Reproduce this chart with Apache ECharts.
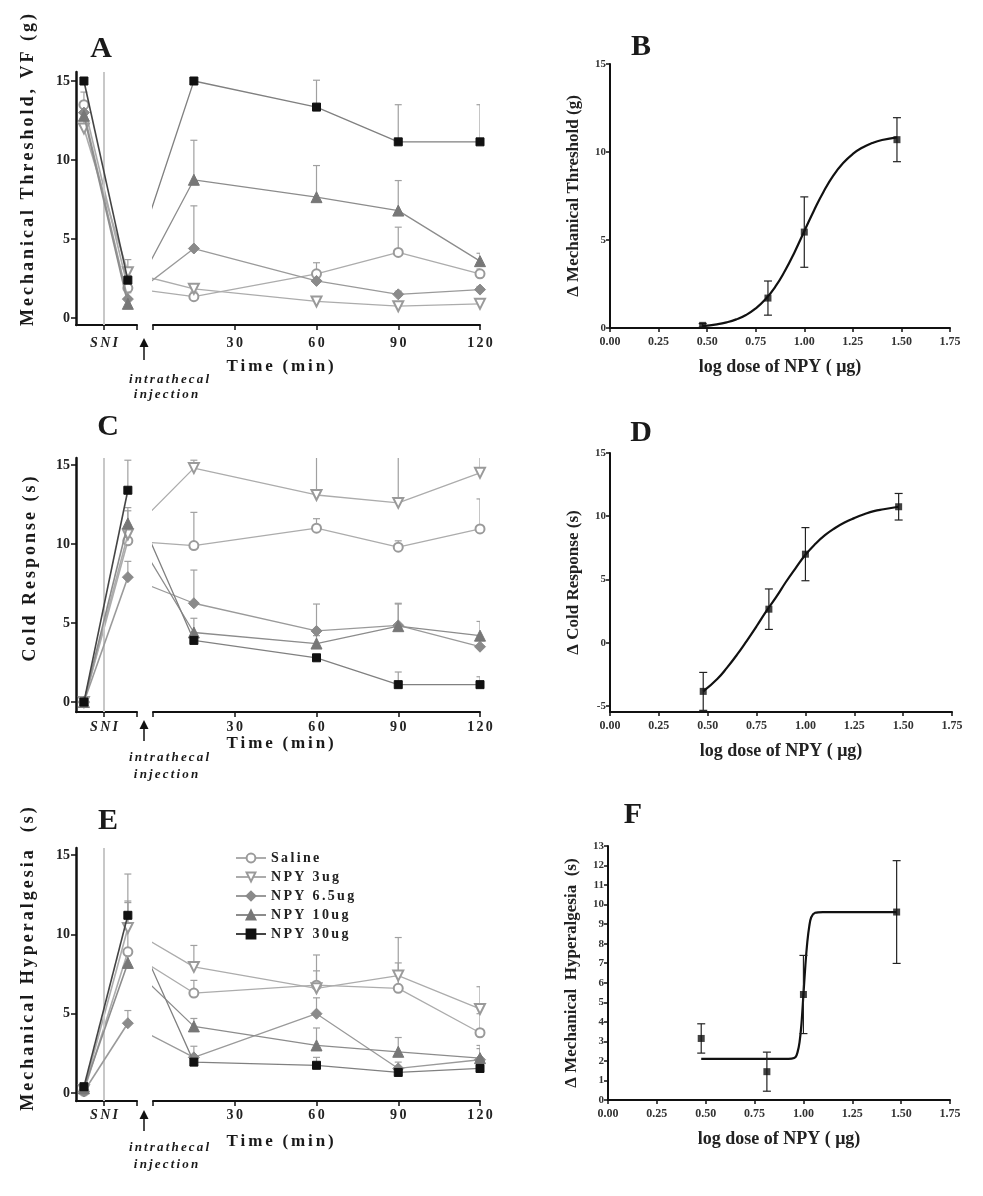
<!DOCTYPE html>
<html><head><meta charset="utf-8">
<script src="https://cdn.jsdelivr.net/npm/echarts@6/dist/echarts.min.js"></script>
<style>html,body{margin:0;padding:0;background:#fff}#c{width:983px;height:1196px}</style>
</head><body><div id="c"></div>
<script>
// ---------------- DATA ----------------
const groups = ['Saline', 'NPY 3ug', 'NPY 6.5ug', 'NPY 10ug', 'NPY 30ug'];
const times = [15, 60, 90, 120];
const timeTicks = [0, 30, 60, 90, 120];
const leftYTicks = [0, 5, 10, 15];
// each row: [baseline, post-SNI, 15, 60, 90, 120 min]
const mechMean = [
  [13.5, 1.9, 1.35, 2.8, 4.15, 2.8],
  [12.0, 2.9, 1.85, 1.05, 0.75, 0.9],
  [13.0, 1.2, 4.4, 2.35, 1.5, 1.8],
  [12.8, 0.9, 8.75, 7.65, 6.8, 3.6],
  [15.0, 2.4, 15.0, 13.35, 11.15, 11.15]
];
const mechErr = [
  [0.8, 0.6, 0.3, 0.7, 1.6, 0.3],
  [0.6, 0.8, 0.3, 0.2, 0.2, 0.2],
  [0.5, 0.4, 2.7, 0.5, 0.2, 0.2],
  [0.6, 0.4, 2.5, 2.0, 1.9, 0.5],
  [0.0, 0.3, 0.0, 1.7, 2.35, 2.35]
];
const coldMean = [
  [0, 10.2, 9.9, 11.0, 9.8, 10.95],
  [0, 10.6, 14.8, 13.1, 12.6, 14.5],
  [0, 7.9, 6.25, 4.5, 4.85, 3.5],
  [0, 11.3, 4.4, 3.7, 4.8, 4.2],
  [0, 13.4, 3.9, 2.8, 1.1, 1.1]
];
const coldErr = [
  [0.1, 1.0, 2.1, 0.6, 0.4, 1.9],
  [0.1, 1.5, 0.5, 2.5, 3.0, 1.0],
  [0.1, 1.0, 2.1, 1.7, 1.4, 0.6],
  [0.1, 1.0, 0.9, 0.5, 1.4, 0.9],
  [0.1, 1.9, 0.3, 0.2, 0.8, 0.5]
];
const hyperMean = [
  [0.1, 8.9, 6.3, 6.8, 6.6, 3.8],
  [0.2, 10.4, 7.95, 6.6, 7.4, 5.3],
  [0.1, 4.4, 2.25, 5.0, 1.55, 2.1],
  [0.3, 8.2, 4.2, 3.0, 2.6, 2.2],
  [0.4, 11.2, 1.95, 1.75, 1.3, 1.55]
];
const hyperErr = [
  [0.1, 3.2, 0.8, 1.9, 1.6, 1.2],
  [0.1, 3.4, 1.35, 1.1, 2.4, 1.4],
  [0.1, 0.8, 0.7, 1.0, 0.4, 0.9],
  [0.1, 0.6, 0.5, 1.1, 0.9, 0.6],
  [0.1, 0.8, 0.3, 0.5, 0.3, 0.3]
];
const logDose = [0.477, 0.813, 1.0, 1.477];
const doseTicks = [0, 0.25, 0.5, 0.75, 1.0, 1.25, 1.5, 1.75];
const dMech = [0.15, 1.7, 5.45, 10.7];
const dMechErr = [0.1, 0.97, 2.0, 1.25];
const dCold = [-3.85, 2.65, 7.0, 10.75];
const dColdErr = [1.5, 1.6, 2.1, 1.05];
const dHyper = [3.15, 1.45, 5.4, 9.62];
const dHyperErr = [0.75, 1.0, 2.0, 2.63];
const fitX = [0.477, 0.55, 0.6, 0.65, 0.7, 0.75, 0.8, 0.85, 0.9, 0.95, 1.0, 1.05, 1.1, 1.15, 1.2, 1.25, 1.3, 1.35, 1.4, 1.477];
const fitMech = [0.11, 0.21, 0.32, 0.49, 0.74, 1.11, 1.63, 2.33, 3.24, 4.31, 5.5, 6.68, 7.76, 8.67, 9.37, 9.89, 10.26, 10.51, 10.68, 10.83];
const fitCold = [-3.85, -2.85, -1.95, -0.95, 0.15, 1.3, 2.5, 3.6, 4.8, 5.9, 6.95, 7.8, 8.5, 9.05, 9.5, 9.85, 10.15, 10.4, 10.55, 10.75];
const fitHyperX = [0.477, 0.9, 0.94, 0.96, 0.97, 0.98, 0.99, 1.0, 1.01, 1.02, 1.03, 1.04, 1.06, 1.1, 1.477];
const fitHyper = [2.1, 2.1, 2.12, 2.2, 2.45, 2.95, 3.9, 5.4, 6.9, 8.1, 8.9, 9.35, 9.58, 9.62, 9.62];

// ---------------- LAYOUT / STYLE ----------------
const FONT = '"Liberation Serif", "Times New Roman", serif';
const SP = '\u2006';
const sp = s => String(s).split('').join(SP);
const PRE_X = [0.13, 0.85];   // baseline, post-SNI positions in left segment (0..1)
const SNI_X = 0.46;
const GAP_X = -9.17;          // post-SNI point expressed in the time scale
const lineColors = ['#acacac', '#acacac', '#9a9a9a', '#8c8c8c', '#808080'];
const sym = [
  {symbol: 'emptyCircle', size: 9, color: '#9a9a9a', rot: 0},
  {symbol: 'emptyTriangle', size: 10, color: '#9a9a9a', rot: 180},
  {symbol: 'diamond', size: 11, color: '#8a8a8a', rot: 0},
  {symbol: 'triangle', size: 11, color: '#777', rot: 0},
  {symbol: 'rect', size: 8, color: '#111', rot: 0}
];
const leftRows = [
  {top: 72, bottom: 325, ymin: -0.44, ymax: 15.57, mean: mechMean, err: mechErr, margin: 11, timeY: 367},
  {top: 458, bottom: 712, ymin: -0.63, ymax: 15.44, mean: coldMean, err: coldErr, margin: 8, timeY: 744},
  {top: 848, bottom: 1101, ymin: -0.5, ymax: 15.44, mean: hyperMean, err: hyperErr, margin: 7, timeY: 1142}
];
const rightPanels = [
  {top: 64, bottom: 328, left: 610, right: 950, ymin: 0, ymax: 15, yticks: [0, 5, 10, 15],
   name: 'Δ Mechanical Threshold (g)', mean: dMech, err: dMechErr, fx: fitX, fy: fitMech, smooth: 0.5},
  {top: 453, bottom: 712, left: 610, right: 952, ymin: -5.48, ymax: 15, yticks: [-5, 0, 5, 10, 15],
   name: 'Δ Cold Response (s)', mean: dCold, err: dColdErr, fx: fitX, fy: fitCold, smooth: 0.5},
  {top: 846, bottom: 1100, left: 608, right: 950, ymin: 0, ymax: 13, yticks: [0,1,2,3,4,5,6,7,8,9,10,11,12,13],
   name: 'Δ Mechanical  Hyperalgesia  (s)', mean: dHyper, err: dHyperErr, fx: fitHyperX, fy: fitHyper, smooth: 0.3}
];

const grid = [], xAxis = [], yAxis = [], series = [];
const axisLine = w => ({show: true, onZero: false, lineStyle: {color: '#111', width: w}});

function errRenderer(color, both, half) {
  return function (params, api) {
    const x = api.value(0), y = api.value(1), e = api.value(2);
    const top = api.coord([x, y + e]);
    const bot = api.coord([x, both ? y - e : y]);
    const ch = [
      {type: 'line', shape: {x1: top[0], y1: top[1], x2: bot[0], y2: bot[1]}, style: {stroke: color, lineWidth: 1.2}},
      {type: 'line', shape: {x1: top[0] - half, y1: top[1], x2: top[0] + half, y2: top[1]}, style: {stroke: color, lineWidth: 1.2}}
    ];
    if (both) ch.push({type: 'line', shape: {x1: bot[0] - half, y1: bot[1], x2: bot[0] + half, y2: bot[1]}, style: {stroke: color, lineWidth: 1.2}});
    return {type: 'group', children: ch};
  };
}

leftRows.forEach((r, ri) => {
  const gL = grid.length;
  grid.push({left: 76, width: 61, top: r.top, height: r.bottom - r.top, containLabel: false, outerBoundsMode: 'none'});
  grid.push({left: 153, width: 327, top: r.top, height: r.bottom - r.top, containLabel: false, outerBoundsMode: 'none'});
  xAxis.push({type: 'value', gridIndex: gL, min: 0, max: 1, axisLine: axisLine(2), splitLine: {show: false},
    axisTick: {customValues: [SNI_X, 1], length: 5, lineStyle: {color: '#111', width: 1.5}},
    axisLabel: {customValues: [SNI_X], formatter: () => sp('SNI'), fontFamily: FONT, fontWeight: 'bold', fontStyle: 'italic', fontSize: 14, color: '#222', margin: r.margin}});
  xAxis.push({type: 'value', gridIndex: gL + 1, min: 0, max: 120, interval: 30, axisLine: axisLine(2), splitLine: {show: false},
    axisTick: {length: 5, lineStyle: {color: '#111', width: 1.5}},
    axisLabel: {formatter: v => v === 0 ? '' : sp(v), fontFamily: FONT, fontWeight: 'bold', fontSize: 14, color: '#222', margin: r.margin}});
  yAxis.push({type: 'value', gridIndex: gL, min: r.ymin, max: r.ymax, axisLine: axisLine(2.5), splitLine: {show: false},
    axisTick: {customValues: leftYTicks, length: 5, lineStyle: {color: '#111', width: 1.5}},
    axisLabel: {customValues: leftYTicks, fontFamily: FONT, fontWeight: 'bold', fontSize: 14, color: '#222', margin: 6}});
  yAxis.push({type: 'value', gridIndex: gL + 1, min: r.ymin, max: r.ymax, show: false, splitLine: {show: false}});

  // error bars (upper)
  [gL, gL + 1].forEach((gi, k) => {
    const data = [];
    groups.forEach((g, gi2) => {
      if (k === 0) { [0, 1].forEach(j => data.push([PRE_X[j], r.mean[gi2][j], r.err[gi2][j], gi2])); }
      else { times.forEach((t, j) => data.push([t, r.mean[gi2][j + 2], r.err[gi2][j + 2], gi2])); }
    });
    series.push({type: 'custom', xAxisIndex: gi, yAxisIndex: gi, clip: true, z: 1, silent: true,
      renderItem: errRenderer('#a0a0a0', false, 3.5), data: data});
  });

  groups.forEach((g, gi2) => {
    const s = sym[gi2];
    const common = {name: g, type: 'line', symbol: s.symbol, symbolSize: s.size, symbolRotate: s.rot,
      itemStyle: {color: s.color, borderColor: s.color, borderWidth: 1}, lineStyle: {color: lineColors[gi2], width: 1.3},
      z: 3 + gi2, clip: true, silent: true};
    const left = Object.assign({}, common, {xAxisIndex: gL, yAxisIndex: gL,
      lineStyle: {color: gi2 === 4 ? '#444' : lineColors[gi2], width: 1.6},
      data: [[PRE_X[0], r.mean[gi2][0]], [PRE_X[1], r.mean[gi2][1]]]});
    if (gi2 === 0) {
      left.markLine = {silent: true, symbol: ['none', 'none'], label: {show: false}, animation: false,
        lineStyle: {color: '#c8c8c8', width: 2, type: 'solid'}, data: [{xAxis: SNI_X}]};
    }
    series.push(left);
    const rd = [{value: [GAP_X, r.mean[gi2][1]], symbol: 'none'}];
    times.forEach((t, j) => rd.push([t, r.mean[gi2][j + 2]]));
    series.push(Object.assign({}, common, {xAxisIndex: gL + 1, yAxisIndex: gL + 1, data: rd}));
  });
});

rightPanels.forEach((p, pi) => {
  const gi = grid.length;
  grid.push({left: p.left, width: p.right - p.left, top: p.top, height: p.bottom - p.top, containLabel: false, outerBoundsMode: 'none'});
  xAxis.push({type: 'value', gridIndex: gi, min: 0, max: 1.75, interval: 0.25, axisLine: axisLine(2), splitLine: {show: false},
    axisTick: {length: 4, lineStyle: {color: '#111', width: 1.5}},
    axisLabel: {formatter: v => v.toFixed(2), fontFamily: FONT, fontWeight: 'bold', fontSize: 12, color: '#333', margin: 8},
    name: 'log dose of NPY ( μg)', nameLocation: 'middle', nameGap: 30,
    nameTextStyle: {fontFamily: FONT, fontWeight: 'bold', fontSize: 18, color: '#222'}});
  yAxis.push({type: 'value', gridIndex: gi, min: p.ymin, max: p.ymax, axisLine: axisLine(2), splitLine: {show: false},
    axisTick: {customValues: p.yticks, length: 4, lineStyle: {color: '#111', width: 1.5}},
    axisLabel: {customValues: p.yticks, fontFamily: FONT, fontWeight: 'bold', fontSize: 11, color: '#333', margin: 4},
    name: p.name, nameLocation: 'middle', nameGap: 28, nameRotate: 90,
    nameTextStyle: {fontFamily: FONT, fontWeight: 'bold', fontSize: 17, color: '#222'}});
  series.push({type: 'line', xAxisIndex: gi, yAxisIndex: gi, data: p.fx.map((x, i) => [x, p.fy[i]]),
    smooth: p.smooth, symbol: 'none', lineStyle: {color: '#111', width: 2.2}, z: 2, silent: true});
  series.push({type: 'custom', xAxisIndex: gi, yAxisIndex: gi, clip: true, z: 3, silent: true,
    renderItem: errRenderer('#222', true, 4),
    data: logDose.map((x, i) => [x, p.mean[i], p.err[i]])});
  series.push({type: 'scatter', xAxisIndex: gi, yAxisIndex: gi, symbol: 'rect', symbolSize: 7,
    itemStyle: {color: '#111'}, z: 4, silent: true, data: logDose.map((x, i) => [x, p.mean[i]])});
});

// ---------------- ANNOTATIONS ----------------
const txt = (x, y, text, size, extra) => Object.assign({type: 'text', x: x, y: y, silent: true,
  style: Object.assign({text: text, fill: '#1a1a1a', font: 'bold ' + size + 'px ' + FONT, textAlign: 'center', textVerticalAlign: 'middle'}, extra && extra.style || {})},
  extra && extra.el || {});
const graphic = [];
[['A', 101, 49], ['B', 641, 47], ['C', 108, 427], ['D', 641, 433], ['E', 108, 821], ['F', 633, 815]]
  .forEach(([t, x, y]) => graphic.push(txt(x, y, t, 30)));
[['Mechanical Threshold, VF (g)', 28, 170], ['Cold Response (s)', 30, 569], ['Mechanical Hyperalgesia  (s)', 28, 959]]
  .forEach(([t, x, y]) => graphic.push(txt(x, y, sp(t), 18, {el: {rotation: Math.PI / 2}})));
leftRows.forEach(r => graphic.push(txt(280, r.timeY, sp('Time (min)'), 17)));
[[338, 360, 380, 395], [720, 741, 758, 775], [1110, 1131, 1148, 1165]].forEach(([t, b, y1, y2]) => {
  graphic.push({type: 'polygon', silent: true, shape: {points: [[139.5, t + 9], [144, t], [148.5, t + 9]]}, style: {fill: '#111'}});
  graphic.push({type: 'line', silent: true, shape: {x1: 144, y1: t + 7, x2: 144, y2: b}, style: {stroke: '#111', lineWidth: 1.5}});
  graphic.push(txt(169, y1, sp('intrathecal'), 13, {style: {font: 'italic bold 13px ' + FONT}}));
  graphic.push(txt(166, y2, sp('injection'), 13, {style: {font: 'italic bold 13px ' + FONT}}));
});

const option = {
  animation: false,
  backgroundColor: '#fff',
  grid: grid, xAxis: xAxis, yAxis: yAxis, series: series, graphic: graphic,
  legend: {data: groups, orient: 'vertical', left: 230, top: 846, itemGap: 5, itemWidth: 30, itemHeight: 11,
    selectedMode: false, formatter: n => sp(n),
    textStyle: {fontFamily: FONT, fontWeight: 'bold', fontSize: 14, color: '#222'}}
};
const chart = echarts.init(document.getElementById('c'), null, {renderer: 'canvas', width: 983, height: 1196});
chart.setOption(option);
</script></body></html>
